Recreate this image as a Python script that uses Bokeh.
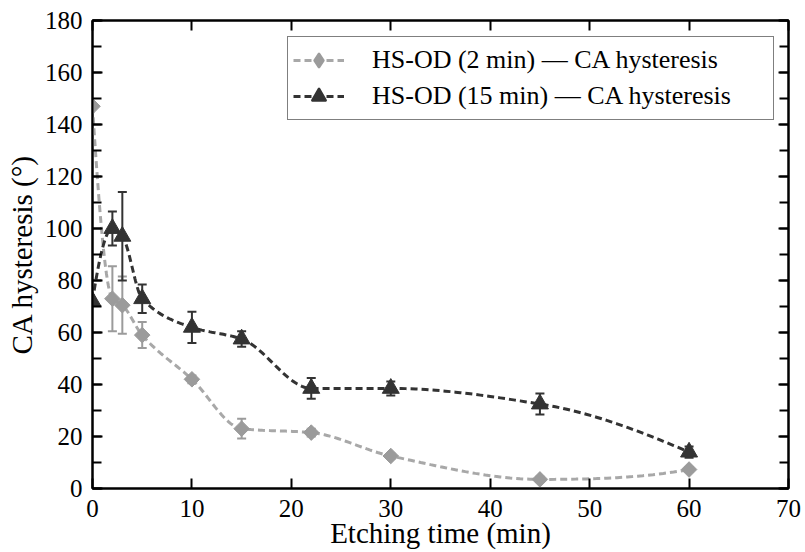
import numpy as np
from bokeh.plotting import figure
from bokeh.models import (LinearAxis, SingleIntervalTicker, Legend, LegendItem,
                          Range1d, ColumnDataSource)
from bokeh.embed import file_html
from bokeh.resources import INLINE

# ---- data ----
etch_time = [0, 2, 3, 5, 10, 15, 22, 30, 45, 60]
ca_2min = [147, 73, 70.5, 59, 42, 23, 21.5, 12.5, 3.5, 7.3]
err_2min = [0, 12.5, 11, 5, 1.5, 3.8, 1.5, 1, 1, 1]
ca_15min = [72, 100, 97, 73, 62, 57.5, 38.5, 38.5, 32.5, 14]
err_15min = [0, 6.5, 17, 5.5, 6, 3, 4, 2.7, 4, 2.2]

label_2min = "HS-OD (2 min) — CA hysteresis"
label_15min = "HS-OD (15 min) — CA hysteresis"
x_label = "Etching time (min)"
y_label = "CA hysteresis (°)"

FONT = "Liberation Serif"
GRAY = "#9b9b9b"
GRAY_LINE = "#a8a8a8"
DARK = "#333333"


def pchip_curve(x, y, per_seg=30):
    """Shape-preserving cubic through the data points (for drawing the line)."""
    x = np.asarray(x, float)
    y = np.asarray(y, float)
    h = np.diff(x)
    d = np.diff(y) / h
    n = len(x)
    m = np.zeros(n)
    for k in range(1, n - 1):
        if d[k - 1] * d[k] > 0:
            w1 = 2 * h[k] + h[k - 1]
            w2 = h[k] + 2 * h[k - 1]
            m[k] = (w1 + w2) / (w1 / d[k - 1] + w2 / d[k])

    def end(h0, h1, d0, d1):
        v = ((2 * h0 + h1) * d0 - h0 * d1) / (h0 + h1)
        if np.sign(v) != np.sign(d0):
            v = 0.0
        elif np.sign(d0) != np.sign(d1) and abs(v) > abs(3 * d0):
            v = 3 * d0
        return v

    m[0] = end(h[0], h[1], d[0], d[1])
    m[-1] = end(h[-1], h[-2], d[-1], d[-2])
    xs, ys = [], []
    for k in range(n - 1):
        t = np.linspace(0, 1, per_seg, endpoint=(k == n - 2))
        h00 = 2 * t**3 - 3 * t**2 + 1
        h10 = t**3 - 2 * t**2 + t
        h01 = -2 * t**3 + 3 * t**2
        h11 = t**3 - t**2
        xs.extend(x[k] + t * h[k])
        ys.extend(h00 * y[k] + h10 * h[k] * m[k] + h01 * y[k + 1] + h11 * h[k] * m[k + 1])
    return xs, ys


W, H = 805, 552
p = figure(width=W, height=H, x_range=Range1d(0, 70), y_range=Range1d(0, 180),
           output_backend="svg", toolbar_location=None,
           min_border_left=92, min_border_right=W - 788, min_border_top=20,
           min_border_bottom=H - 488)
p.grid.visible = False
p.outline_line_color = "black"
p.outline_line_width = 2
p.background_fill_color = "white"
p.border_fill_color = "white"


def style_axis(ax, labels=True):
    ax.axis_line_color = "black"
    ax.axis_line_width = 2
    ax.major_tick_in = 10
    ax.major_tick_out = 0
    ax.minor_tick_in = 9
    ax.minor_tick_out = 0
    ax.major_tick_line_width = 2
    ax.minor_tick_line_width = 2
    ax.major_tick_line_color = "black"
    ax.minor_tick_line_color = "black"
    ax.major_label_text_font = FONT
    ax.major_label_text_font_size = "25px"
    ax.major_label_text_color = "black"
    ax.axis_label_text_font = FONT
    ax.axis_label_text_font_size = "29px"
    ax.axis_label_text_font_style = "normal"
    ax.axis_label_text_color = "black"
    if not labels:
        ax.major_label_text_font_size = "1px"
        ax.major_label_text_color = None
        ax.major_label_standoff = 0


xt = dict(interval=10, num_minor_ticks=0)
yt = dict(interval=20, num_minor_ticks=2)

xa = p.xaxis[0]
xa.ticker = SingleIntervalTicker(**xt)
style_axis(xa)
xa.axis_label = x_label
xa.major_label_standoff = 11
xa.axis_label_text_line_height = 1.0
xa.axis_label_standoff = -3

ya = p.yaxis[0]
ya.ticker = SingleIntervalTicker(**yt)
style_axis(ya)
ya.axis_label = y_label
ya.major_label_standoff = 10
ya.axis_label_standoff = 4

top = LinearAxis(ticker=SingleIntervalTicker(**xt))
style_axis(top, labels=False)
p.add_layout(top, "above")
right = LinearAxis(ticker=SingleIntervalTicker(**yt))
style_axis(right, labels=False)
p.add_layout(right, "right")


def add_series(y, err, color, line_color, marker, size, angle):
    y = np.asarray(y, float)
    e = np.asarray(err, float)
    src = ColumnDataSource(dict(x=etch_time, y=y, lo=y - e, hi=y + e))
    cx, cy = pchip_curve(etch_time, y)
    ln = p.line(cx, cy, line_color=line_color, line_width=3, line_dash="7 4")
    p.segment(x0="x", y0="lo", x1="x", y1="hi", source=src, line_color=color, line_width=2)
    p.scatter("x", "lo", source=src, marker="dash", size=9, line_color=color, line_width=2)
    p.scatter("x", "hi", source=src, marker="dash", size=9, line_color=color, line_width=2)
    mk = p.scatter("x", "y", source=src, marker=marker, size=size, angle=angle,
                   fill_color=color, line_color=color, line_width=1)
    return ln, mk, src


g_ln, g_mk, g_src = add_series(ca_2min, err_2min, GRAY, GRAY_LINE, "square", 11, np.pi / 4)
d_ln, d_mk, d_src = add_series(ca_15min, err_15min, DARK, DARK, "triangle", 17, 0)

# legend-only marker samples (hidden in the plot; the legend does not rotate markers)
g_leg = p.scatter("x", "y", source=g_src, marker="diamond", fill_color=GRAY,
                  line_color=GRAY, line_width=2, visible=False)
d_leg = p.scatter("x", "y", source=d_src, marker="triangle", fill_color=DARK,
                  line_color=DARK, line_width=2, visible=False)

legend = Legend(items=[LegendItem(label=label_2min, renderers=[g_ln, g_leg]),
                       LegendItem(label=label_15min, renderers=[d_ln, d_leg])],
                location=(195, 368))
legend.label_text_font = FONT
legend.label_text_font_size = "26px"
legend.label_text_color = "black"
legend.glyph_width = 51
legend.glyph_height = 36
legend.label_height = 30
legend.label_standoff = 28
legend.label_width = 396
legend.padding = 5
legend.spacing = -2
legend.margin = 0
legend.border_line_color = "black"
legend.border_line_width = 1.5
legend.background_fill_color = "white"
legend.background_fill_alpha = 1
p.add_layout(legend)

open("out.html", "w").write(file_html(p, INLINE))
